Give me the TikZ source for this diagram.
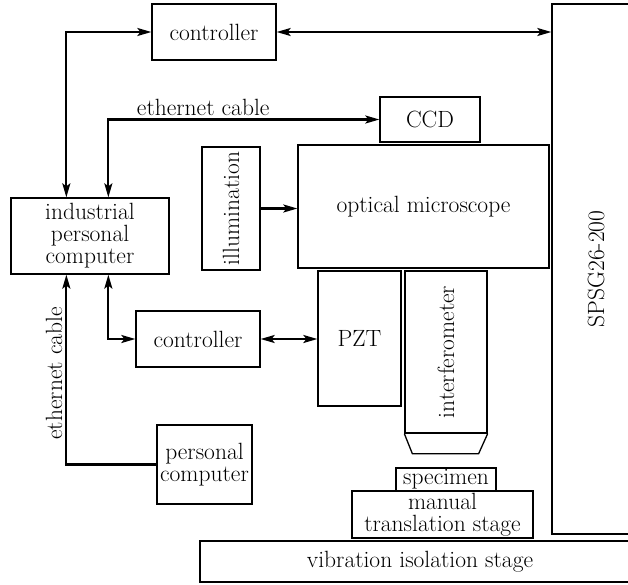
\documentclass[tikz,border=0pt]{standalone}
\usepackage{fontspec}
\usetikzlibrary{arrows.meta, calc}
\tikzset{
  every picture/.style={line width=1.3pt},
  box/.style={draw, align=center, inner sep=2pt, font=\fontsize{23.5}{22}\selectfont},
  lbl/.style={font=\fontsize{23.5}{22}\selectfont, inner sep=3pt},
  link/.style={-{Stealth[length=14pt, width=8pt, inset=3pt]}, line width=2.1pt},
  twoway/.style={{Stealth[length=14pt, width=8pt, inset=3pt]}-{Stealth[length=14pt, width=8pt, inset=3pt]}, line width=2.1pt},
}

\begin{document}
\begin{tikzpicture}[x=1pt, y=-1pt]
  \useasboundingbox (0,0) rectangle (628,584);
  \clip (0,0) rectangle (628,584);
  % boxes
  \node[box, minimum width=124, minimum height=56] (ctrlA) at (214,32) {controller};
  \node[box, minimum width=88, minimum height=530] (spsg) at (596,269) {\rotatebox{90}{SPSG26-200}};
  \node[box, minimum width=100, minimum height=45] (ccd) at (430,119.5) {CCD};
  \node[box, minimum width=251, minimum height=123] (micro) at (423.5,206.5) {optical microscope};
  \node[box, minimum width=58, minimum height=123] (illum) at (231,208.5) {\rotatebox{90}{illumination}};
  \node[box, minimum width=158, minimum height=76] (ipc) at (90,236) {industrial\\ personal\\ computer};
  \node[box, minimum width=124, minimum height=56] (ctrlB) at (198,339) {controller};
  \node[box, minimum width=83, minimum height=135] (pzt) at (359.5,338.5) {PZT};
  \node[box, minimum width=82, minimum height=162] (interf) at (446,352) {\rotatebox{90}{interferometer}};
  \draw (interf.south west) -- ++(8,20) -- ($(interf.south east)+(-9,20)$) -- (interf.south east);
  \node[box, minimum width=100, minimum height=23, inner sep=0pt] (spec) at (446,479.5) {specimen};
  \node[box, minimum width=181, minimum height=47, inner sep=0pt] (manual) at (442.5,514.5) {manual\\ translation stage};
  \node[box, minimum width=440, minimum height=41] (vib) at (420,561.5) {vibration isolation stage};
  \node[box, minimum width=95, minimum height=79] (pc) at (204.5,464.5) {personal\\ computer};
  % connections
  \draw[twoway] (ctrlA.east) -- (ctrlA.east -| spsg.west);
  \draw[twoway] ([xshift=56]ipc.north west) |- (ctrlA.west);
  \draw[twoway] ([xshift=98]ipc.north west) |- (ccd.west)
    node[lbl, pos=0.675, above] {ethernet cable};
  \draw[link] (illum.east) -- (illum.east -| micro.west);
  \draw[twoway] ([xshift=98]ipc.south west) |- (ctrlB.west);
  \draw[twoway] (ctrlB.east) -- (ctrlB.east -| pzt.west);
  \draw[link] (pc.west) -| ([xshift=56]ipc.south west)
    node[lbl, pos=0.74, anchor=south, rotate=90] {ethernet cable};
\end{tikzpicture}
\end{document}
